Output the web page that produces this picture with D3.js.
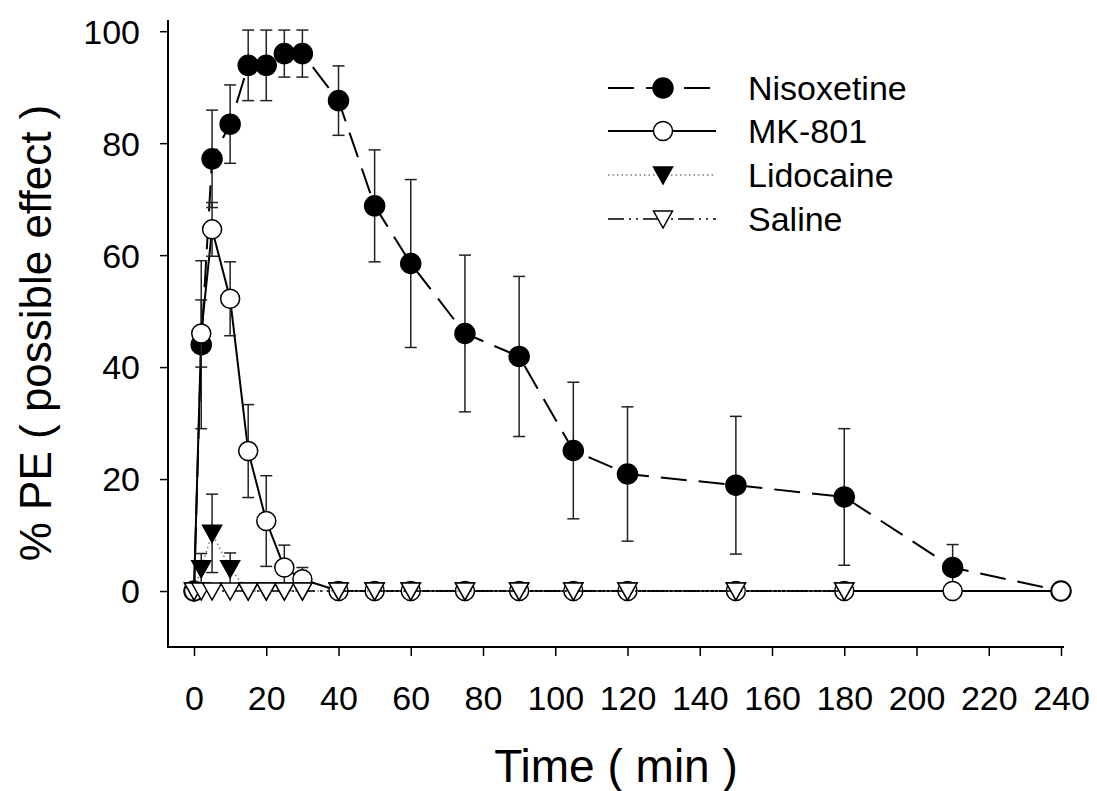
<!DOCTYPE html>
<html>
<head>
<meta charset="utf-8">
<script src="https://cdn.jsdelivr.net/npm/d3@7"></script>
<style>
  body { margin: 0; background: #fff; }
  svg text { font-family: "Liberation Sans", Arial, Helvetica, sans-serif; fill: #000; }
</style>
</head>
<body>
<svg id="chart" width="1097" height="791"></svg>
<script>
// time points (min)
var times = [0, 2, 5, 10, 15, 20, 25, 30, 40, 50, 60, 75, 90, 105, 120, 150, 180, 210, 240];
var timesShort = [0, 2, 5, 10, 15, 20, 25, 30, 40, 50, 60, 75, 90, 105, 120, 150, 180];

var nisoMean = [0, 44, 77.2, 83.4, 93.9, 93.9, 96, 96, 87.6, 68.8, 58.5, 46, 41.9, 25.1, 20.9, 18.9, 16.8, 4.2, 0];
var nisoErr  = [0, 15, 8.7, 7, 6.3, 6.3, 4.2, 4.2, 6.2, 10, 15, 14, 14.3, 12.2, 12, 12.3, 12.2, 4.1, 0];

var mkMean = [0, 46, 64.6, 52.2, 25, 12.5, 4.2, 2.1, 0, 0, 0, 0, 0, 0, 0, 0, 0, 0, 0];
var mkErr  = [0, 6, 4.8, 6.6, 8.3, 8.1, 4, 2.1, 0, 0, 0, 0, 0, 0, 0, 0, 0, 0, 0];

var lidoMean = [0, 4, 10.3, 4, 0, 0, 0, 0, 0, 0, 0, 0, 0, 0, 0, 0, 0];
var lidoErr  = [0, 2.7, 7, 2.8, 0, 0, 0, 0, 0, 0, 0, 0, 0, 0, 0, 0, 0];

var salMean = [0, 0, 0, 0, 0, 0, 0, 0, 0, 0, 0, 0, 0, 0, 0, 0, 0];
var salErr  = [0, 0, 0, 0, 0, 0, 0, 0, 0, 0, 0, 0, 0, 0, 0, 0, 0];

var xTicks = [0, 20, 40, 60, 80, 100, 120, 140, 160, 180, 200, 220, 240];
var yTicks = [0, 20, 40, 60, 80, 100];
var seriesNames = ["Nisoxetine", "MK-801", "Lidocaine", "Saline"];

var svg = d3.select("#chart");

var x = d3.scaleLinear().domain([-7.2, 240]).range([168, 1061]);
var y = d3.scaleLinear().domain([-10, 102]).range([647, 20]);

function zip(ts, m, e) {
  return ts.map(function (t, i) { return { t: t, v: m[i], e: e[i] }; });
}

var series = [
  { name: seriesNames[0], data: zip(times, nisoMean, nisoErr), dash: "26,12", stroke: "#000", width: 2, sym: "circle", fill: "#000", r: 10 },
  { name: seriesNames[1], data: zip(times, mkMean, mkErr), dash: null, stroke: "#000", width: 2, sym: "circle", fill: "#fff", r: 9.5 },
  { name: seriesNames[2], data: zip(timesShort, lidoMean, lidoErr), dash: "1.5,3", stroke: "#777", width: 1.5, sym: "tri", fill: "#000" },
  { name: seriesNames[3], data: zip(timesShort, salMean, salErr), dash: "16,5,2,5,2,5", stroke: "#000", width: 1.5, sym: "tri", fill: "#fff" }
];

function drawMarker(g, s, cx, cy) {
  if (s.sym === "circle") {
    g.append("circle").attr("cx", cx).attr("cy", cy).attr("r", s.r)
      .attr("fill", s.fill).attr("stroke", "#000").attr("stroke-width", 1.5);
  } else {
    g.append("path")
      .attr("d", "M" + (cx - 9.5) + "," + (cy - 8) + "L" + (cx + 9.5) + "," + (cy - 8) + "L" + cx + "," + (cy + 9) + "Z")
      .attr("fill", s.fill).attr("stroke", "#000").attr("stroke-width", 1.5).attr("stroke-linejoin", "miter");
  }
}

var line = d3.line().x(function (d) { return x(d.t); }).y(function (d) { return y(d.v); });

// axes
var yAxis = d3.axisLeft(y).tickValues(yTicks).tickSize(8).tickPadding(20);
var gy = svg.append("g").attr("transform", "translate(168,0)").call(yAxis);
gy.select(".domain").remove();
gy.selectAll(".tick line").attr("stroke", "#000").attr("stroke-width", 1.5);
gy.selectAll(".tick text").attr("font-size", 34).attr("dy", "0.35em");
svg.append("line").attr("x1", 168).attr("x2", 168).attr("y1", 20).attr("y2", 648)
  .attr("stroke", "#000").attr("stroke-width", 2);

var xAxis = d3.axisBottom(x).tickValues(xTicks).tickSize(9).tickPadding(30);
var gx = svg.append("g").attr("transform", "translate(0,647)").call(xAxis);
gx.select(".domain").remove();
gx.selectAll(".tick line").attr("stroke", "#000").attr("stroke-width", 1.5);
gx.selectAll(".tick text").attr("font-size", 34).attr("dy", "0.71em");
svg.append("line").attr("x1", 167).attr("x2", 1064).attr("y1", 647).attr("y2", 647)
  .attr("stroke", "#000").attr("stroke-width", 2);

// series
series.forEach(function (s) {
  var g = svg.append("g");
  var p = g.append("path").datum(s.data).attr("d", line)
    .attr("fill", "none").attr("stroke", s.stroke).attr("stroke-width", s.width);
  if (s.dash) p.attr("stroke-dasharray", s.dash);
  s.data.forEach(function (d) {
    if (d.e > 0) {
      var cx = x(d.t), y1 = y(d.v + d.e), y2 = y(d.v - d.e);
      g.append("line").attr("x1", cx).attr("x2", cx).attr("y1", y1).attr("y2", y2)
        .attr("stroke", "#222").attr("stroke-width", 1.5);
      [y1, y2].forEach(function (yy) {
        g.append("line").attr("x1", cx - 6).attr("x2", cx + 6).attr("y1", yy).attr("y2", yy)
          .attr("stroke", "#222").attr("stroke-width", 1.5);
      });
    }
  });
  s.data.forEach(function (d) { drawMarker(g, s, x(d.t), y(d.v)); });
});

// legend
var legY = [88, 131, 175, 219];
series.forEach(function (s, i) {
  var g = svg.append("g");
  var l = g.append("line").attr("x1", 608).attr("x2", 716).attr("y1", legY[i]).attr("y2", legY[i])
    .attr("stroke", s.stroke).attr("stroke-width", s.width);
  if (s.dash) l.attr("stroke-dasharray", s.dash);
  drawMarker(g, s, 663, legY[i]);
  g.append("text").attr("x", 748).attr("y", legY[i]).attr("dy", "0.36em")
    .attr("font-size", 34).text(s.name);
});

// titles
svg.append("text").attr("x", 616).attr("y", 782).attr("text-anchor", "middle")
  .attr("font-size", 46).text("Time ( min )");
svg.append("text").attr("transform", "translate(51,333) rotate(-90)").attr("text-anchor", "middle")
  .attr("font-size", 44).text("% PE ( possible effect )");
</script>
</body>
</html>
